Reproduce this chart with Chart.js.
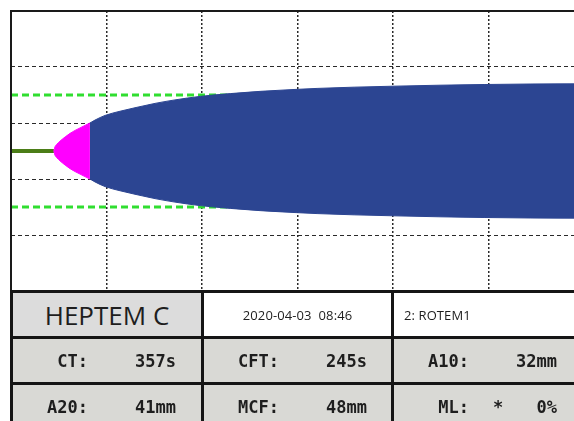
<!DOCTYPE html>
<html>
<head>
<meta charset="utf-8">
<title>HEPTEM C</title>
<script src="https://cdn.jsdelivr.net/npm/chart.js@4.4.1/dist/chart.umd.min.js"></script>
<style>
  html, body { margin: 0; padding: 0; background: #fff; }
  #page { position: relative; width: 574px; height: 421px; overflow: hidden; }
  #trace { position: absolute; left: 0; top: 0; }
  .rule { position: absolute; background: #151515; }
  .cell { position: absolute; }
  .txt { position: absolute; white-space: pre; color: #1e1e1e; }
  .title { font-family: "Open Sans", "Noto Sans", sans-serif; font-size: 26px; line-height: 30px; }
  .small { font-family: "Open Sans", "Noto Sans", sans-serif; font-size: 13px; line-height: 16px; letter-spacing: 0.1px; }
  .param { font-family: "DejaVu Sans Mono", monospace; font-weight: bold; font-size: 17px; line-height: 20px; }
</style>
</head>
<body>
<div id="page">
<canvas id="trace" width="584" height="300"></canvas>
<div id="report"></div>
</div>
<script>
// ---- run header ----
const testName = 'HEPTEM C';
const runStamp = '2020-04-03  08:46';
const channel = '2: ROTEM1';

// ---- result parameters (two rows of three) ----
const paramLabels = ['CT:', 'CFT:', 'A10:', 'A20:', 'MCF:', 'ML:'];
const paramValues = ['357s', '245s', '32mm', '41mm', '48mm', '0%'];
const paramFlags  = ['', '', '', '', '', '*'];

// ---- trace: time in seconds, amplitude in mm (drawn as ±amplitude/2) ----
const ctSec = 357;
const cftSec = 245;
const viewStart = 65;      // first second shown on the time axis
const gridStep = 650;      // seconds per grid column
const gridCols = 6;
const ampGrid = [-30, -10, 10, 30];
const refBand = 20;        // dashed reference lines at ±20 mm

// clotting-time baseline (flat until CT)
const baseTime = [viewStart, ctSec];
const baseAmp  = [0, 0];

// clot formation phase (CT → CT + CFT, amplitude 0 → 20 mm)
const cftTime = [357, 364, 378, 398, 433, 467, 501, 535, 569, 602];
const cftAmp  = [0, 2.9, 4.9, 7.0, 10.0, 12.6, 14.7, 16.5, 18.3, 20];

// firm clot phase (CT + CFT onward, up to MCF)
const clotTime = [602, 637, 705, 807, 909, 957, 1045, 1181, 1352, 1557, 1760, 1964, 2148, 2400, 2672, 2985, 3285, 3598, 3965];
const clotAmp  = [20, 22.1, 25.4, 28.4, 30.9, 32, 34, 36.5, 39, 41, 42.6, 43.8, 44.7, 45.6, 46.3, 47, 47.5, 47.85, 48];

const viewEnd = viewStart + gridStep * gridCols;

const half = (ts, as, sign) => ts.map((t, i) => ({ x: t, y: sign * as[i] / 2 }));

const BLUE = '#2c4592';
const MAGENTA = '#ff00ff';

const edgeLine = (data, color, fillTarget, order) => ({
  data, borderColor: color, backgroundColor: color, borderWidth: 1,
  pointRadius: 0, cubicInterpolationMode: 'monotone', fill: fillTarget, order
});

const datasets = [
  edgeLine(half(clotTime, clotAmp, 1), BLUE, 1, 1),
  edgeLine(half(clotTime, clotAmp, -1), BLUE, false, 1),
  edgeLine(half(cftTime, cftAmp, 1), MAGENTA, 3, 2),
  edgeLine(half(cftTime, cftAmp, -1), MAGENTA, false, 2),
  { data: half(baseTime, baseAmp, 1), borderColor: '#4b7d17', borderWidth: 4, pointRadius: 0, fill: false, order: 2 },
  { data: [{ x: viewStart, y: refBand }, { x: viewEnd, y: refBand }], borderColor: '#30de30', borderWidth: 3, borderDash: [7, 4], pointRadius: 0, fill: false, order: 3 },
  { data: [{ x: viewStart, y: -refBand }, { x: viewEnd, y: -refBand }], borderColor: '#30de30', borderWidth: 3, borderDash: [7, 4], pointRadius: 0, fill: false, order: 3 }
];

// solid frame on the top and left edges of the plot
const framePlugin = {
  id: 'frame',
  afterDatasetsDraw(chart) {
    const { ctx, chartArea: a } = chart;
    ctx.save();
    ctx.strokeStyle = '#1a1a1a';
    ctx.lineWidth = 2;
    ctx.beginPath();
    ctx.moveTo(a.left, a.bottom);
    ctx.lineTo(a.left, a.top);
    ctx.lineTo(chart.width, a.top);
    ctx.stroke();
    ctx.restore();
  }
};

new Chart(document.getElementById('trace'), {
  type: 'line',
  data: { datasets },
  plugins: [framePlugin],
  options: {
    responsive: false,
    animation: false,
    devicePixelRatio: 1,
    layout: { padding: { left: 11, top: 11, right: 0, bottom: 9 } },
    plugins: { legend: { display: false }, tooltip: { enabled: false } },
    scales: {
      x: {
        type: 'linear', min: viewStart, max: viewEnd,
        afterBuildTicks: s => { s.ticks = Array.from({ length: gridCols - 1 }, (_, k) => ({ value: viewStart + (k + 1) * gridStep })); },
        ticks: { display: false },
        grid: { color: '#2a2a2a', lineWidth: 1.5, drawTicks: false },
        border: { display: false, dash: [2, 2] }
      },
      y: {
        type: 'linear', min: -50, max: 50,
        afterBuildTicks: s => { s.ticks = ampGrid.map(v => ({ value: v })); },
        ticks: { display: false },
        grid: { color: '#2a2a2a', lineWidth: 1, drawTicks: false },
        border: { display: false, dash: [4, 3] }
      }
    }
  }
});

// ---- result table below the trace ----
const report = document.getElementById('report');
const colX = [13, 204, 394];
const colW = [188, 187, 190];
const rowY = [293, 339, 385];
const rowH = [43, 43, 45];

function box(cls, x, y, w, h, bg) {
  const d = document.createElement('div');
  d.className = cls;
  Object.assign(d.style, { left: x + 'px', top: y + 'px', width: w + 'px', height: h + 'px' });
  if (bg) d.style.background = bg;
  report.appendChild(d);
  return d;
}
function text(cls, str, style) {
  const s = document.createElement('div');
  s.className = 'txt ' + cls;
  s.textContent = str;
  Object.assign(s.style, style);
  report.appendChild(s);
  return s;
}

// cell backgrounds
box('cell', colX[0], rowY[0], colW[0], rowH[0], '#dcdcdc');
box('cell', colX[1], rowY[0], colW[1], rowH[0], '#ffffff');
box('cell', colX[2], rowY[0], colW[2], rowH[0], '#ffffff');
for (let r = 1; r < 3; r++) for (let c = 0; c < 3; c++) box('cell', colX[c], rowY[r], colW[c], rowH[r], '#d9d9d5');

// grid rules
[290, 336, 382].forEach(y => box('rule', 10, y, 574, 3));
[10, 201, 391].forEach(x => box('rule', x, 290, 3, 140));

// header texts
text('title', testName, { left: colX[0] + 'px', width: colW[0] + 'px', textAlign: 'center', top: (315 - 15) + 'px' });
text('small', runStamp, { left: colX[1] + 'px', width: colW[1] + 'px', textAlign: 'center', top: (315 - 8) + 'px' });
text('small', channel, { left: (colX[2] + 10) + 'px', top: (315 - 8) + 'px' });

// parameters
const rowMid = [361, 407];
paramLabels.forEach((lab, i) => {
  const r = Math.floor(i / 3), c = i % 3;
  const top = (rowMid[r] - 10) + 'px';
  text('param', lab, { left: colX[c] + 'px', width: '75px', textAlign: 'right', top });
  text('param', paramValues[i], { left: colX[c] + 'px', width: '163px', textAlign: 'right', top });
  if (paramFlags[i]) text('param', paramFlags[i], { left: (colX[c] + 94) + 'px', width: '20px', textAlign: 'center', top });
});
</script>
</body>
</html>
